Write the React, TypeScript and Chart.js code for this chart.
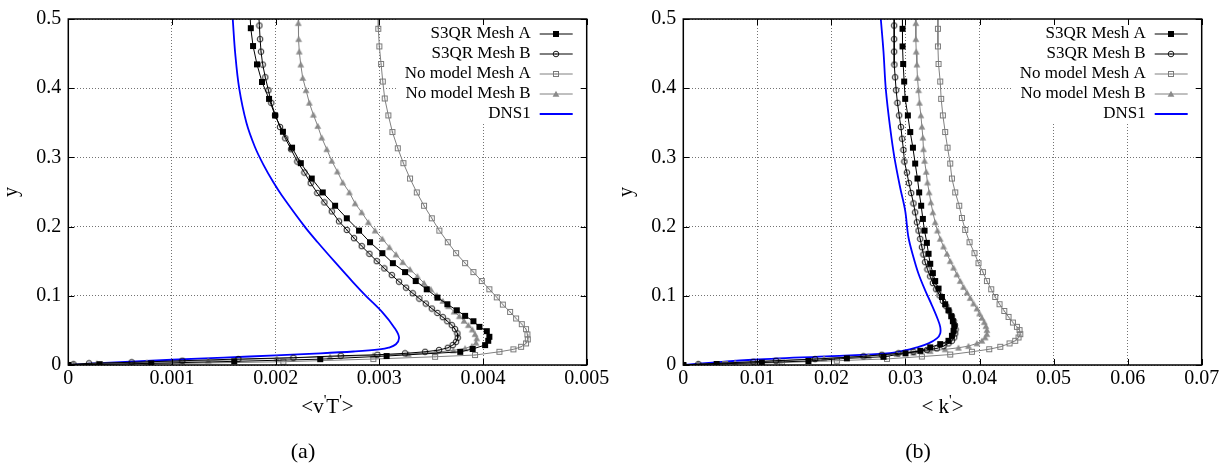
import React, { useEffect, useRef } from "react";
import { Chart, registerables } from "chart.js";

Chart.register(...registerables);

// ---------- tick definitions ----------
const yTicks = [0, 0.1, 0.2, 0.3, 0.4, 0.5];
const yTickLabels = ["0", "0.1", "0.2", "0.3", "0.4", "0.5"];
const vtTicks = [0, 0.001, 0.002, 0.003, 0.004, 0.005];
const vtTickLabels = ["0", "0.001", "0.002", "0.003", "0.004", "0.005"];
const kTicks = [0, 0.01, 0.02, 0.03, 0.04, 0.05, 0.06, 0.07];
const kTickLabels = ["0", "0.01", "0.02", "0.03", "0.04", "0.05", "0.06", "0.07"];

const seriesNames = ["S3QR Mesh A", "S3QR Mesh B", "No model Mesh A", "No model Mesh B", "DNS1"];

// ---------- panel (a): <v'T'> vs y, pairs [x, y] ----------
const vtS3qrA: [number, number][] = [
  [0.00175, 0.512], [0.00176, 0.4868], [0.001782, 0.4609], [0.00182, 0.4345], [0.001868, 0.409],
  [0.001936, 0.3846], [0.001994, 0.3607], [0.00207, 0.3371], [0.002158, 0.3141], [0.002242, 0.2917],
  [0.002348, 0.2695], [0.002454, 0.2494], [0.002573, 0.2302], [0.002686, 0.212], [0.002804, 0.1942],
  [0.00291, 0.1774], [0.003029, 0.1616], [0.00313, 0.1472], [0.003248, 0.1343], [0.003351, 0.1213],
  [0.003457, 0.1094], [0.00356, 0.0974], [0.003656, 0.0878], [0.003747, 0.0791], [0.003827, 0.071],
  [0.003907, 0.0633], [0.003965, 0.0551], [0.004036, 0.0489], [0.004061, 0.0408], [0.00405, 0.035],
  [0.00402, 0.0288], [0.0039, 0.0232], [0.00378, 0.019], [0.00307, 0.013], [0.00243, 0.0084],
  [0.0016, 0.0053], [0.0008, 0.0024], [0.0003, 0.001], [0, 0],
];
const vtS3qrB: [number, number][] = [
  [0.001835, 0.51], [0.001843, 0.4906], [0.00185, 0.4709], [0.001859, 0.4528], [0.001875, 0.4341],
  [0.0019, 0.4158], [0.00193, 0.3971], [0.001958, 0.3788], [0.001997, 0.3607], [0.002042, 0.3439],
  [0.002093, 0.3276], [0.002148, 0.3118], [0.002209, 0.294], [0.002277, 0.2781], [0.002338, 0.2629],
  [0.002402, 0.2485], [0.00247, 0.235], [0.002541, 0.222], [0.002611, 0.2076], [0.002686, 0.1952],
  [0.002756, 0.1832], [0.00283, 0.1717], [0.002904, 0.1607], [0.002975, 0.1501], [0.003048, 0.1396],
  [0.00312, 0.1299], [0.00319, 0.1204], [0.003258, 0.1118], [0.003322, 0.1036], [0.003386, 0.096],
  [0.003448, 0.0888], [0.003506, 0.0816], [0.00356, 0.0753], [0.003612, 0.0691], [0.003656, 0.0633],
  [0.003699, 0.0576], [0.00373, 0.0518], [0.003753, 0.0456], [0.003756, 0.0393], [0.00374, 0.0335],
  [0.003708, 0.0288], [0.00366, 0.0249], [0.003576, 0.0216], [0.003441, 0.0191], [0.003248, 0.0168],
  [0.002981, 0.0148], [0.002628, 0.0134], [0.002171, 0.0105], [0.00164, 0.0086], [0.0011, 0.0062],
  [0.000611, 0.0039], [0.0002, 0.0024], [0.00005, 0.001], [0, 0],
];
const vtNoModelA: [number, number][] = [
  [0.00299, 0.512], [0.00299, 0.4859], [0.003, 0.4604], [0.003017, 0.435], [0.003033, 0.4096],
  [0.003052, 0.3852], [0.003087, 0.3607], [0.003126, 0.3367], [0.003178, 0.3132], [0.003232, 0.2917],
  [0.003296, 0.2695], [0.003361, 0.2494], [0.003431, 0.2302], [0.003506, 0.212], [0.003579, 0.1942],
  [0.00366, 0.1774], [0.00374, 0.1616], [0.003827, 0.1472], [0.003907, 0.1343], [0.003988, 0.1213],
  [0.004061, 0.1094], [0.004133, 0.0978], [0.004191, 0.0873], [0.004261, 0.0767], [0.004319, 0.0672],
  [0.004374, 0.059], [0.004415, 0.0518], [0.004428, 0.0442], [0.004432, 0.037], [0.004415, 0.0312],
  [0.004367, 0.0263], [0.004293, 0.0226], [0.004158, 0.0191], [0.003923, 0.0144], [0.003538, 0.0119],
  [0.002942, 0.0086], [0.002074, 0.0047], [0.001094, 0.0024], [0.000306, 0.001], [0, 0],
];
const vtNoModelB: [number, number][] = [
  [0.002218, 0.51], [0.002219, 0.494], [0.002222, 0.4709], [0.002228, 0.4528], [0.002242, 0.4341],
  [0.002261, 0.4148], [0.002293, 0.3971], [0.002325, 0.3788], [0.002364, 0.3616], [0.002406, 0.3453],
  [0.002444, 0.3285], [0.002493, 0.3118], [0.002541, 0.295], [0.002595, 0.2796], [0.002647, 0.2637],
  [0.002711, 0.2494], [0.002766, 0.2335], [0.00283, 0.2206], [0.002894, 0.2062], [0.002959, 0.1942],
  [0.003029, 0.1823], [0.003097, 0.1702], [0.003161, 0.1597], [0.003226, 0.1486], [0.003296, 0.1381],
  [0.003367, 0.1281], [0.003431, 0.1184], [0.003496, 0.1094], [0.003554, 0.1007], [0.003612, 0.0925],
  [0.003666, 0.0849], [0.003721, 0.0772], [0.003772, 0.0705], [0.003817, 0.0638], [0.003859, 0.0576],
  [0.003897, 0.0513], [0.003923, 0.0446], [0.00394, 0.0384], [0.003933, 0.0321], [0.003892, 0.0273],
  [0.003827, 0.024], [0.003714, 0.0211], [0.003538, 0.0183], [0.00328, 0.0158], [0.002942, 0.014],
  [0.002525, 0.0119], [0.00201, 0.0096], [0.00135, 0.0062], [0.000756, 0.0039], [0.000274, 0.0024],
  [0.00005, 0.001], [0, 0],
];
const vtDns: [number, number][] = [
  [0.001586, 0.5], [0.00161, 0.45], [0.001648, 0.4], [0.001718, 0.35], [0.0018, 0.315],
  [0.00188, 0.29], [0.001978, 0.264], [0.00206, 0.245], [0.00228, 0.2], [0.002405, 0.1774],
  [0.002573, 0.1486], [0.002745, 0.1199], [0.00287, 0.1], [0.00303, 0.076], [0.003145, 0.054],
  [0.00319, 0.04], [0.00316, 0.03], [0.00309, 0.025], [0.003, 0.0225], [0.00275, 0.0195],
  [0.00243, 0.0168], [0.002, 0.0138], [0.0015, 0.0108], [0.001, 0.0076], [0.0005, 0.0043], [0, 0],
];

// ---------- panel (b): <k'> vs y, pairs [x, y] ----------
const kS3qrA: [number, number][] = [
  [0.02958, 0.512], [0.0296, 0.4859], [0.0296, 0.4604], [0.02969, 0.435], [0.02982, 0.4096],
  [0.02996, 0.3846], [0.03032, 0.3607], [0.03064, 0.3367], [0.031, 0.3141], [0.03131, 0.2911],
  [0.03162, 0.2695], [0.03185, 0.2494], [0.03212, 0.2302], [0.03235, 0.2111], [0.03257, 0.1942],
  [0.03289, 0.1765], [0.03311, 0.1607], [0.03334, 0.1463], [0.0337, 0.1328], [0.03401, 0.1213],
  [0.03446, 0.1104], [0.03492, 0.0983], [0.03536, 0.0878], [0.03581, 0.0791], [0.03618, 0.0705],
  [0.0364, 0.0633], [0.03658, 0.0561], [0.03649, 0.0494], [0.03627, 0.0422], [0.03581, 0.035],
  [0.03469, 0.0302], [0.03334, 0.0255], [0.032, 0.0205], [0.03, 0.0168], [0.02703, 0.0119],
  [0.02208, 0.0096], [0.01689, 0.0058], [0.0106, 0.0035], [0.0045, 0.0015], [0, 0],
];
const kS3qrB: [number, number][] = [
  [0.02847, 0.51], [0.02847, 0.4906], [0.02847, 0.4709], [0.02847, 0.4528], [0.02851, 0.4341],
  [0.02861, 0.4158], [0.02874, 0.3971], [0.02892, 0.3788], [0.02915, 0.3607], [0.02938, 0.3439],
  [0.02955, 0.327], [0.02973, 0.3108], [0.02986, 0.294], [0.03019, 0.2781], [0.03046, 0.2629],
  [0.03077, 0.2485], [0.03108, 0.2335], [0.03131, 0.2206], [0.03154, 0.2062], [0.03176, 0.1942],
  [0.03199, 0.1823], [0.03222, 0.1702], [0.03243, 0.1597], [0.03266, 0.1486], [0.03297, 0.1381],
  [0.03334, 0.1281], [0.0337, 0.1184], [0.03415, 0.1094], [0.0346, 0.1007], [0.03505, 0.0925],
  [0.0355, 0.0849], [0.0359, 0.0777], [0.03627, 0.0705], [0.03649, 0.0638], [0.03668, 0.0576],
  [0.03676, 0.0513], [0.03672, 0.0456], [0.03658, 0.0398], [0.03627, 0.035], [0.03581, 0.0312],
  [0.03514, 0.0273], [0.03424, 0.024], [0.03289, 0.0216], [0.03108, 0.0191], [0.02905, 0.0168],
  [0.0268, 0.0148], [0.02432, 0.0125], [0.0178, 0.0085], [0.0125, 0.0062], [0.00946, 0.0047],
  [0.00203, 0.0012], [0, 0],
];
const kNoModelA: [number, number][] = [
  [0.03438, 0.512], [0.03438, 0.4859], [0.03438, 0.4604], [0.03446, 0.435], [0.03469, 0.4096],
  [0.03482, 0.3846], [0.03505, 0.3607], [0.03536, 0.3367], [0.03568, 0.3141], [0.03604, 0.2911],
  [0.03627, 0.2695], [0.03672, 0.2494], [0.03726, 0.2302], [0.03762, 0.2125], [0.03807, 0.1952],
  [0.03865, 0.1774], [0.03932, 0.1616], [0.03986, 0.1472], [0.04046, 0.1343], [0.041, 0.1213],
  [0.04158, 0.1094], [0.04212, 0.0983], [0.0427, 0.0878], [0.04334, 0.0781], [0.04392, 0.0695],
  [0.04451, 0.0614], [0.04505, 0.0551], [0.0454, 0.0504], [0.0455, 0.0446], [0.04527, 0.0398],
  [0.04482, 0.035], [0.04405, 0.0312], [0.0428, 0.0263], [0.04131, 0.0228], [0.03897, 0.0191],
  [0.03604, 0.0151], [0.03221, 0.0122], [0.0275, 0.0088], [0.02073, 0.0062], [0.0133, 0.0035],
  [0.00564, 0.0015], [0, 0],
];
const kNoModelB: [number, number][] = [
  [0.0314, 0.51], [0.0314, 0.494], [0.0314, 0.4709], [0.03145, 0.4528], [0.03154, 0.4341],
  [0.03162, 0.4148], [0.03176, 0.3971], [0.03189, 0.3788], [0.03208, 0.3607], [0.03222, 0.3443],
  [0.03235, 0.3285], [0.03243, 0.3118], [0.03257, 0.295], [0.0328, 0.2791], [0.03297, 0.2637],
  [0.0332, 0.2494], [0.03343, 0.235], [0.0337, 0.2206], [0.03401, 0.2062], [0.03432, 0.1942],
  [0.03469, 0.1823], [0.03514, 0.1712], [0.0356, 0.1607], [0.03604, 0.1501], [0.03649, 0.1406],
  [0.03694, 0.1309], [0.03739, 0.1213], [0.03784, 0.1127], [0.0383, 0.1046], [0.03874, 0.0968],
  [0.03919, 0.0888], [0.03965, 0.0816], [0.04, 0.0744], [0.04032, 0.0681], [0.04064, 0.0619],
  [0.04086, 0.0561], [0.041, 0.0504], [0.041, 0.0446], [0.04077, 0.0398], [0.04032, 0.035],
  [0.03965, 0.0312], [0.03851, 0.0273], [0.03716, 0.0249], [0.03536, 0.0226], [0.03334, 0.0201],
  [0.03108, 0.0177], [0.02884, 0.0158], [0.025, 0.013], [0.019, 0.0096], [0.013, 0.0062],
  [0.007, 0.0035], [0.002, 0.0012], [0, 0],
];
const kDns: [number, number][] = [
  [0.02667, 0.5], [0.02703, 0.4532], [0.02735, 0.398], [0.02793, 0.3429], [0.02851, 0.2997],
  [0.02928, 0.2565], [0.02996, 0.223], [0.0304, 0.1846], [0.03108, 0.1558], [0.03176, 0.1319],
  [0.03266, 0.1079], [0.03357, 0.0863], [0.03432, 0.0672], [0.03469, 0.0551], [0.03469, 0.0456],
  [0.03424, 0.0384], [0.03311, 0.0312], [0.03154, 0.0255], [0.02973, 0.0206], [0.02749, 0.0168],
  [0.02005, 0.0129], [0.00878, 0.0072], [0, 0],
];

// ---------- marker images ----------
function makeMarker(size: number, draw: (g: CanvasRenderingContext2D) => void) {
  const c = document.createElement("canvas");
  c.width = size;
  c.height = size;
  const g = c.getContext("2d")!;
  draw(g);
  return c;
}

function buildMarkers() {
  const filledSquare = makeMarker(8, (g) => {
    g.fillStyle = "#000";
    g.fillRect(1, 1, 6, 6);
  });
  const openCircle = makeMarker(8, (g) => {
    g.strokeStyle = "#000";
    g.lineWidth = 0.9;
    g.beginPath();
    g.arc(4, 4, 2.8, 0, Math.PI * 2);
    g.stroke();
    g.fillStyle = "#000";
    g.fillRect(3.5, 3.5, 1, 1);
  });
  const openSquareGray = makeMarker(8, (g) => {
    g.strokeStyle = "#7a7a7a";
    g.lineWidth = 1;
    g.strokeRect(1.5, 1.5, 5, 5);
    g.fillStyle = "#7a7a7a";
    g.fillRect(3.5, 3.5, 1, 1);
  });
  const filledTriangleGray = makeMarker(8, (g) => {
    g.fillStyle = "#8a8a8a";
    g.beginPath();
    g.moveTo(4, 0.8);
    g.lineTo(7.4, 6.8);
    g.lineTo(0.6, 6.8);
    g.closePath();
    g.fill();
  });
  return [filledSquare, openCircle, openSquareGray, filledTriangleGray];
}

const FONT = "'Liberation Serif', 'Times New Roman', serif";

type LabelPart = { t: string; sup?: boolean };

function drawParts(ctx: CanvasRenderingContext2D, parts: LabelPart[], cx: number, baseY: number) {
  const mainFont = `21px ${FONT}`;
  const supFont = `15px ${FONT}`;
  let w = 0;
  for (const p of parts) {
    ctx.font = p.sup ? supFont : mainFont;
    w += ctx.measureText(p.t).width;
  }
  let x = cx - w / 2;
  ctx.textAlign = "left";
  ctx.textBaseline = "alphabetic";
  for (const p of parts) {
    ctx.font = p.sup ? supFont : mainFont;
    ctx.fillText(p.t, x, p.sup ? baseY - 8 : baseY);
    x += ctx.measureText(p.t).width;
  }
}

function makeOverlayPlugin(markers: HTMLCanvasElement[], xLabel: LabelPart[], caption: string) {
  return {
    id: "gnuplotOverlay",
    afterDatasetsDraw(chart: any) {
      const { ctx, chartArea: ca } = chart;
      ctx.save();
      // opaque key box
      ctx.fillStyle = "#fff";
      ctx.fillRect(ca.right - 190, ca.top, 190, 105);
      // key entries
      chart.data.datasets.forEach((ds: any, i: number) => {
        const y = ca.top + 15 + i * 20;
        ctx.font = `17px ${FONT}`;
        ctx.fillStyle = "#000";
        ctx.textAlign = "right";
        ctx.textBaseline = "middle";
        ctx.fillText(ds.label, ca.right - 56, y);
        ctx.strokeStyle = ds.borderColor;
        ctx.lineWidth = ds.borderWidth;
        ctx.beginPath();
        ctx.moveTo(ca.right - 47, y);
        ctx.lineTo(ca.right - 14, y);
        ctx.stroke();
        if (markers[i]) {
          const m = markers[i];
          ctx.drawImage(m, Math.round(ca.right - 30.5 - m.width / 2), Math.round(y - m.height / 2));
        }
      });
      // frame
      ctx.strokeStyle = "#000";
      ctx.lineWidth = 1.5;
      ctx.strokeRect(ca.left, ca.top, ca.right - ca.left, ca.bottom - ca.top);
      // inward tics on all four sides
      ctx.lineWidth = 1;
      const xs = chart.scales.x;
      const ys = chart.scales.y;
      ctx.beginPath();
      xs.ticks.forEach((t: any) => {
        const px = Math.round(xs.getPixelForValue(t.value)) + 0.5;
        ctx.moveTo(px, ca.bottom);
        ctx.lineTo(px, ca.bottom - 6);
        ctx.moveTo(px, ca.top);
        ctx.lineTo(px, ca.top + 6);
      });
      ys.ticks.forEach((t: any) => {
        const py = Math.round(ys.getPixelForValue(t.value)) + 0.5;
        ctx.moveTo(ca.left, py);
        ctx.lineTo(ca.left + 6, py);
        ctx.moveTo(ca.right, py);
        ctx.lineTo(ca.right - 6, py);
      });
      ctx.stroke();
      // axis titles
      ctx.fillStyle = "#000";
      ctx.save();
      ctx.translate(17.4, (ca.top + ca.bottom) / 2);
      ctx.rotate(-Math.PI / 2);
      ctx.font = `20px ${FONT}`;
      ctx.textAlign = "center";
      ctx.textBaseline = "alphabetic";
      ctx.fillText("y", 0, 0);
      ctx.restore();
      drawParts(ctx, xLabel, (ca.left + ca.right) / 2, 413);
      ctx.font = `22px ${FONT}`;
      ctx.textAlign = "center";
      ctx.textBaseline = "alphabetic";
      ctx.fillText(caption, 303, 458);
      ctx.restore();
    },
  };
}

type PanelProps = {
  series: [number, number][][];
  xTicks: number[];
  xTickLabels: string[];
  xMax: number;
  xLabel: LabelPart[];
  caption: string;
  left: number;
};

function Panel({ series, xTicks, xTickLabels, xMax, xLabel, caption, left }: PanelProps) {
  const ref = useRef<HTMLCanvasElement | null>(null);
  useEffect(() => {
    if (!ref.current) return;
    const markers = buildMarkers();
    const colors = ["#000000", "#000000", "#808080", "#808080", "#0000ff"];
    const widths = [1, 1, 1, 1, 1.8];
    const datasets = series.map((s, i) => ({
      label: seriesNames[i],
      data: s.map(([x, y]) => ({ x, y })),
      borderColor: colors[i],
      borderWidth: widths[i],
      pointStyle: i < 4 ? markers[i] : "circle",
      pointRadius: i < 4 ? 3 : 0,
      pointHoverRadius: i < 4 ? 3 : 0,
      showLine: true,
      fill: false,
      tension: i < 4 ? 0 : 0.35,
    }));
    const chart = new Chart(ref.current, {
      type: "line",
      data: { datasets: datasets as any },
      options: {
        responsive: false,
        animation: false,
        devicePixelRatio: 1,
        events: [],
        layout: { padding: { top: 18.3, right: 28.3, left: 0, bottom: 0 } },
        plugins: { legend: { display: false }, tooltip: { enabled: false } },
        scales: {
          x: {
            type: "linear",
            min: 0,
            max: xMax,
            afterBuildTicks: (s: any) => {
              s.ticks = xTicks.map((v) => ({ value: v }));
            },
            afterFit: (s: any) => {
              s.height = 98;
            },
            ticks: {
              callback: (_v: any, i: number) => xTickLabels[i],
              font: { family: FONT, size: 20 },
              color: "#000",
              padding: 2,
              maxRotation: 0,
              autoSkip: false,
            },
            grid: { color: "rgba(0,0,0,0.55)", lineWidth: 1, drawTicks: false },
            border: { display: false, dash: [1, 2] },
          },
          y: {
            type: "linear",
            min: 0,
            max: 0.5,
            afterBuildTicks: (s: any) => {
              s.ticks = yTicks.map((v) => ({ value: v }));
            },
            afterFit: (s: any) => {
              s.width = 68.3;
            },
            ticks: {
              callback: (_v: any, i: number) => yTickLabels[i],
              font: { family: FONT, size: 20 },
              color: "#000",
              padding: 7,
              autoSkip: false,
            },
            grid: { color: "rgba(0,0,0,0.55)", lineWidth: 1, drawTicks: false },
            border: { display: false, dash: [1, 2] },
          },
        },
      },
      plugins: [makeOverlayPlugin(markers, xLabel, caption)],
    });
    return () => chart.destroy();
  }, []);
  return (
    <canvas
      ref={ref}
      width={615}
      height={463}
      style={{ position: "absolute", left, top: 0, width: 615, height: 463 }}
    />
  );
}

export default function App() {
  return (
    <div style={{ position: "absolute", left: 0, top: 0, width: 1230, height: 463, background: "#fff" }}>
      <Panel
        series={[vtS3qrA, vtS3qrB, vtNoModelA, vtNoModelB, vtDns]}
        xTicks={vtTicks}
        xTickLabels={vtTickLabels}
        xMax={0.005}
        xLabel={[{ t: "<v" }, { t: "'", sup: true }, { t: "T" }, { t: "'", sup: true }, { t: ">" }]}
        caption="(a)"
        left={0}
      />
      <Panel
        series={[kS3qrA, kS3qrB, kNoModelA, kNoModelB, kDns]}
        xTicks={kTicks}
        xTickLabels={kTickLabels}
        xMax={0.07}
        xLabel={[{ t: "< k" }, { t: "'", sup: true }, { t: ">" }]}
        caption="(b)"
        left={615}
      />
    </div>
  );
}
